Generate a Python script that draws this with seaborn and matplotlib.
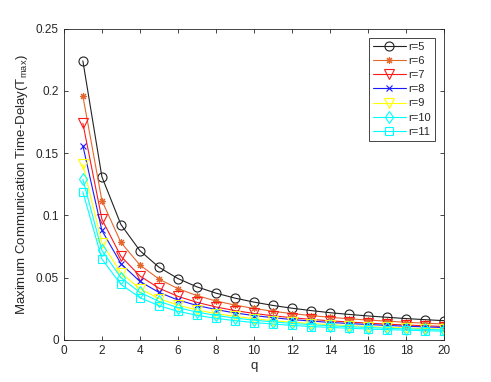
import numpy as np
import pandas as pd
import matplotlib
matplotlib.use("Agg")
import matplotlib.pyplot as plt
import seaborn as sns

# q values on the x axis
q = list(range(1, 21))

# Maximum communication time-delay, one list per r
r5 = [0.2241, 0.1311, 0.0927, 0.0717, 0.0584, 0.0493, 0.0426, 0.0376, 0.0336, 0.0304,
      0.0277, 0.0255, 0.0236, 0.0219, 0.0205, 0.0193, 0.0182, 0.0172, 0.0163, 0.0155]
r6 = [0.196, 0.112, 0.0783, 0.0602, 0.0489, 0.0412, 0.0356, 0.0313, 0.0280, 0.0253,
      0.0230, 0.0212, 0.0196, 0.0182, 0.0170, 0.0160, 0.0151, 0.0142, 0.0135, 0.0128]
r7 = [0.174, 0.097, 0.0672, 0.0514, 0.0416, 0.0350, 0.0302, 0.0265, 0.0236, 0.0213,
      0.0194, 0.0179, 0.0165, 0.0154, 0.0144, 0.0135, 0.0127, 0.0120, 0.0114, 0.0108]
r8 = [0.156, 0.088, 0.0613, 0.0470, 0.0382, 0.0321, 0.0277, 0.0244, 0.0217, 0.0196,
      0.0179, 0.0164, 0.0152, 0.0141, 0.0132, 0.0124, 0.0117, 0.0110, 0.0105, 0.0100]
r9 = [0.141, 0.078, 0.0539, 0.0412, 0.0333, 0.0280, 0.0241, 0.0212, 0.0189, 0.0171,
      0.0155, 0.0143, 0.0132, 0.0123, 0.0115, 0.0108, 0.0101, 0.0096, 0.0091, 0.0086]
r10 = [0.129, 0.072, 0.0500, 0.0382, 0.0310, 0.0260, 0.0224, 0.0197, 0.0176, 0.0159,
       0.0145, 0.0133, 0.0123, 0.0114, 0.0107, 0.0100, 0.0094, 0.0089, 0.0085, 0.0080]
r11 = [0.119, 0.065, 0.0446, 0.0340, 0.0275, 0.0230, 0.0198, 0.0174, 0.0155, 0.0140,
       0.0128, 0.0117, 0.0108, 0.0101, 0.0094, 0.0088, 0.0083, 0.0079, 0.0074, 0.0071]

labels = ["r=5", "r=6", "r=7", "r=8", "r=9", "r=10", "r=11"]
series = [r5, r6, r7, r8, r9, r10, r11]

colors = ["#222222", "#E2682E", "#FF1A1A", "#1A1AFF", "#FFFF00", "#00FFFF", "#00FFFF"]
markers = ["o", (8, 2, 0), "v", "x", "v", "d", "s"]
msizes = [6.5, 5, 6.5, 5, 6.5, 6, 5.5]

sns.set_style("ticks")
plt.rcParams["font.family"] = ["Liberation Sans", "DejaVu Sans"]
plt.rcParams["mathtext.fontset"] = "custom"
plt.rcParams["mathtext.rm"] = "Liberation Sans"
plt.rcParams["mathtext.it"] = "Liberation Sans"

fig = plt.figure(figsize=(4.91, 3.82), dpi=100)
ax = fig.add_axes([0.13, 0.11, 0.775, 0.815])

for lab, vals, c, m, ms in zip(labels, series, colors, markers, msizes):
    df = pd.DataFrame({"q": q, "T": vals})
    sns.lineplot(data=df, x="q", y="T", ax=ax, color=c, marker=m,
                 markersize=ms, markerfacecolor="none",
                 markeredgecolor=c, markeredgewidth=0.8, linewidth=0.8,
                 label=lab)

ax.set_xlim(0, 20)
ax.set_ylim(0, 0.25)
ax.set_xticks(np.arange(0, 21, 2))
ax.set_yticks([0, 0.05, 0.1, 0.15, 0.2, 0.25])
ax.set_yticklabels(["0", "0.05", "0.1", "0.15", "0.2", "0.25"])
ax.tick_params(direction="in", top=True, right=True, length=3, width=0.6,
               labelsize=8.5, colors="#262626")
for sp in ax.spines.values():
    sp.set_visible(True)
    sp.set_linewidth(0.6)
    sp.set_color("#262626")

ax.set_xlabel("q", fontsize=9.5, color="#262626", labelpad=2)
ax.set_ylabel("Maximum Communication Time-Delay(T$_{max}$)", fontsize=9.5,
              color="#262626", labelpad=4)

leg = ax.legend(loc="upper right", bbox_to_anchor=(0.976, 0.971), fontsize=8,
                frameon=True, fancybox=False, framealpha=1, edgecolor="#262626",
                handlelength=3.0, labelspacing=0.38, borderpad=0.35,
                handletextpad=0.25, borderaxespad=0)
leg.get_frame().set_linewidth(0.6)

fig.savefig("out.png", dpi=100)
